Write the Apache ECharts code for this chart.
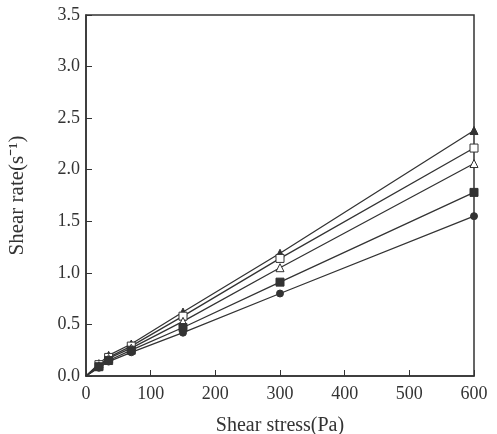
<!DOCTYPE html>
<html>
<head>
<meta charset="utf-8">
<script src="https://cdn.jsdelivr.net/npm/echarts@6/dist/echarts.min.js"></script>
<style>
  html, body { margin: 0; padding: 0; background: #fff; }
  #chart { width: 497px; height: 434px; }
</style>
</head>
<body>
<div id="chart"></div>
<script>
const stress = [0, 20, 35, 70, 150, 300, 600]
const rateA = [0, 0.12, 0.20, 0.31, 0.62, 1.19, 2.38] // filled triangle
const rateB = [0, 0.11, 0.18, 0.29, 0.58, 1.14, 2.21] // open square
const rateC = [0, 0.10, 0.17, 0.27, 0.53, 1.05, 2.06] // open triangle
const rateD = [0, 0.09, 0.15, 0.25, 0.47, 0.91, 1.78] // filled square
const rateE = [0, 0.08, 0.14, 0.23, 0.42, 0.80, 1.55] // filled circle

const ink = '#333'
const font = 'Liberation Serif'

function makeSeries(values, symbol, hollow) {
  return {
    type: 'line',
    // origin has no marker in the figure, only the lines start there
    data: values.map((v, i) => i === 0 ? { value: [stress[i], v], symbol: 'none' } : [stress[i], v]),
    symbol: symbol,
    symbolSize: symbol === 'circle' ? 7 : 8,
    showSymbol: true,
    lineStyle: { color: ink, width: 1.3 },
    itemStyle: {
      color: hollow ? '#fff' : ink,
      borderColor: ink,
      borderWidth: 1
    },
    z: 3
  }
}

const chart = echarts.init(document.getElementById('chart'))
chart.setOption({
  backgroundColor: '#fff',
  animation: false,
  grid: {
    left: 86, right: 23, top: 15, bottom: 58,
    outerBoundsMode: 'none', containLabel: false,
    show: true, borderColor: ink, borderWidth: 1.5
  },
  xAxis: {
    type: 'value',
    min: 0,
    max: 600,
    interval: 100,
    name: 'Shear stress(Pa)',
    nameLocation: 'middle',
    nameGap: 40,
    nameTextStyle: { fontFamily: font, fontSize: 20, color: ink },
    axisLine: { lineStyle: { color: ink, width: 1.5 } },
    axisTick: { inside: true, length: 6, lineStyle: { color: ink } },
    axisLabel: { fontFamily: font, fontSize: 18, color: ink, margin: 9 },
    splitLine: { show: false }
  },
  yAxis: {
    type: 'value',
    min: 0,
    max: 3.5,
    interval: 0.5,
    name: 'Shear rate(s⁻¹)',
    nameLocation: 'middle',
    nameGap: 58,
    nameTextStyle: { fontFamily: font, fontSize: 21, color: ink },
    axisLine: { lineStyle: { color: ink, width: 1.5 } },
    axisTick: { inside: true, length: 6, lineStyle: { color: ink } },
    axisLabel: { fontFamily: font, fontSize: 18, color: ink, margin: 6, formatter: v => v.toFixed(1) },
    splitLine: { show: false }
  },
  series: [
    makeSeries(rateA, 'triangle', false),
    makeSeries(rateB, 'rect', true),
    makeSeries(rateC, 'triangle', true),
    makeSeries(rateD, 'rect', false),
    makeSeries(rateE, 'circle', false)
  ]
})
</script>
</body>
</html>
